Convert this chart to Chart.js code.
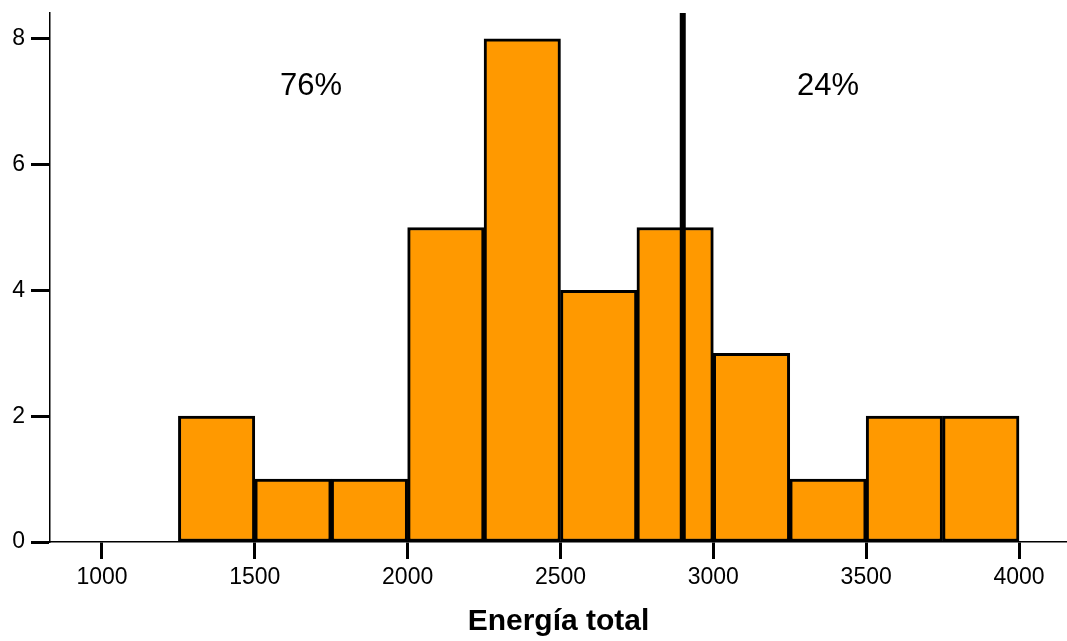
<!DOCTYPE html>
<html>
<head>
<meta charset="utf-8">
<script src="https://cdn.jsdelivr.net/npm/chart.js@4/dist/chart.umd.min.js"></script>
<style>
  html, body { margin: 0; padding: 0; background: #fff; }
  #wrap { width: 1067px; height: 641px; }
</style>
</head>
<body>
<div id="wrap"><canvas id="chart"></canvas></div>
<script>
// histogram bins (centres) and counts
var binCenters = [1375, 1625, 1875, 2125, 2375, 2625, 2875, 3125, 3375, 3625, 3875];
var binCounts  = [2, 1, 1, 5, 8, 4, 5, 3, 1, 2, 2];
var cutValue = 2900;
var xTicks = [1000, 1500, 2000, 2500, 3000, 3500, 4000];
var yTicks = [0, 2, 4, 6, 8];
var shareLabels = [
    { text: '76%', x: 1684, y: 7.25 },
    { text: '24%', x: 3375, y: 7.25 }
];

var FONT = '"Liberation Sans", Arial, sans-serif';
var yMax = 8.41;

var percentPlugin = {
    id: 'percentText',
    afterDatasetsDraw: function (chart) {
        var ctx = chart.ctx;
        var xs = chart.scales.x, ys = chart.scales.y;
        ctx.save();
        ctx.fillStyle = '#000';
        ctx.font = '31px ' + FONT;
        ctx.textAlign = 'center';
        ctx.textBaseline = 'middle';
        shareLabels.forEach(function (l) {
            ctx.fillText(l.text, xs.getPixelForValue(l.x), ys.getPixelForValue(l.y));
        });
        ctx.restore();
    }
};

new Chart(document.getElementById('chart'), {
    type: 'bar',
    data: {
        datasets: [{
            type: 'line',
            data: [{ x: cutValue, y: 0 }, { x: cutValue, y: yMax }],
            borderColor: '#000',
            borderWidth: 6,
            pointRadius: 0,
            clip: 0,
            order: 0
        }, {
            type: 'bar',
            data: binCenters.map(function (c, i) { return { x: c, y: binCounts[i] }; }),
            backgroundColor: '#FF9900',
            borderColor: '#000',
            borderWidth: 3,
            borderSkipped: false,
            barPercentage: 1,
            categoryPercentage: 1,
            order: 1
        }]
    },
    options: {
        responsive: true,
        maintainAspectRatio: false,
        animation: false,
        layout: { padding: { top: 13, right: 0, left: 0, bottom: 0 } },
        plugins: {
            legend: { display: false },
            tooltip: { enabled: false }
        },
        scales: {
            x: {
                type: 'linear',
                offset: false,
                min: 830,
                max: 4157,
                afterFit: function (s) {
                    s.height = 99;
                    s.paddingLeft = 0;
                    s.paddingRight = 0;
                },
                afterBuildTicks: function (s) {
                    s.ticks = xTicks.map(function (v) { return { value: v }; });
                },
                grid: {
                    offset: false,
                    drawOnChartArea: false,
                    tickLength: 17,
                    tickWidth: 3,
                    tickColor: '#000'
                },
                border: { display: true, color: '#000', width: 1.5 },
                ticks: {
                    color: '#000',
                    padding: 5,
                    maxRotation: 0,
                    autoSkip: false,
                    font: { family: FONT, size: 23 },
                    callback: function (v) { return String(v); }
                },
                title: {
                    display: true,
                    text: 'Energía total',
                    color: '#000',
                    font: { family: FONT, size: 30, weight: 'bold' },
                    padding: { top: 0, bottom: 1 }
                }
            },
            y: {
                min: 0,
                max: yMax,
                afterFit: function (s) {
                    s.width = 50;
                    s.paddingTop = 0;
                    s.paddingBottom = 0;
                },
                afterBuildTicks: function (s) {
                    s.ticks = yTicks.map(function (v) { return { value: v }; });
                },
                grid: {
                    drawOnChartArea: false,
                    tickLength: 19,
                    tickWidth: 3,
                    tickColor: '#000'
                },
                border: { display: true, color: '#000', width: 1.5 },
                ticks: {
                    color: '#000',
                    padding: 6,
                    font: { family: FONT, size: 23 },
                    callback: function (v) { return String(v); }
                }
            }
        }
    },
    plugins: [percentPlugin]
});
</script>
</body>
</html>
